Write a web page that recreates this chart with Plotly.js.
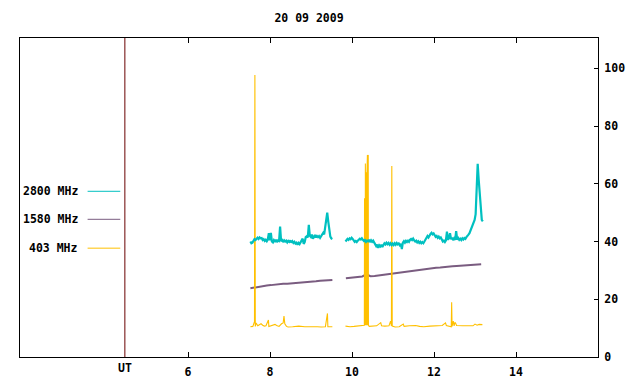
<!DOCTYPE html>
<html><head><meta charset="utf-8">
<script src="https://cdn.plot.ly/plotly-3.0.1.min.js"></script>
<style>html,body{margin:0;padding:0;background:#fff}</style>
</head><body><div id="chart" style="width:640px;height:384px"></div>
<script>
// ---- data ----
const chartTitle = "20 09 2009";
const seriesNames = ["2800 MHz", "1580 MHz", "403 MHz"];
const xTickVals = [6, 8, 10, 12, 14];
const yTickVals = [0, 20, 40, 60, 80, 100];
const utLabel = "UT";

// 2800 MHz, sampled every 0.025 h
const f2800aStart = 7.52, f2800bStart = 9.84, f2800Step = 0.025;
const f2800a = [40.0,39.4,39.6,40.3,40.8,40.5,41.1,41.3,40.9,41.4,41.1,41.2,40.5,40.8,40.2,40.6,40.1,40.7,42.9,40.4,
43.0,40.0,39.7,40.5,40.1,40.6,39.8,40.4,40.2,45.2,40.1,40.5,39.8,40.4,40.0,40.3,39.7,40.2,39.9,40.4,
39.6,40.1,39.5,39.9,39.3,39.6,38.9,39.5,39.1,39.7,40.8,41.0,39.2,39.8,41.5,41.8,41.4,45.8,42.0,41.6,
42.4,41.0,41.5,42.3,41.4,41.9,41.5,41.9,41.3,42.0,42.3,43.0,42.5,45.8,47.0,50.0,46.9,43.0,41.7,41.1,40.9];
const f2800b = [40.0,40.4,40.9,40.6,41.1,40.8,41.3,40.9,40.3,39.9,40.2,39.8,40.3,40.6,41.0,40.7,41.1,40.6,40.2,40.5,
39.9,40.3,40.1,40.6,39.8,40.4,39.9,40.3,39.5,38.9,38.4,38.9,37.8,38.7,38.3,38.9,38.1,38.8,39.4,39.0,
39.6,39.1,39.5,38.9,39.4,38.8,39.3,38.8,39.4,38.9,39.5,39.0,39.3,38.7,39.2,37.4,39.6,40.1,39.6,40.2,
39.8,40.3,39.9,40.6,40.9,40.5,41.0,40.4,40.0,40.3,39.7,40.1,39.5,39.9,39.4,39.8,39.4,40.0,40.8,41.5,
41.9,41.4,42.2,42.6,43.0,42.5,42.8,42.0,41.6,41.9,41.3,41.7,41.1,41.4,40.7,40.0,40.3,39.8,40.4,43.4,
40.6,41.2,42.9,40.8,41.3,40.5,41.1,40.6,43.6,40.7,41.2,40.6,41.0,40.5,41.1,40.7,41.2,40.9,41.5,41.8,
42.4,42.9,43.8,44.8,45.6,46.3,47.5,49.5,59.0,66.9,61.4,56.8,49.9,47.5,47.0];

// 1580 MHz, sampled every 0.1 h
const f1580aStart = 7.52, f1580bStart = 9.85, f1580Step = 0.1;
const f1580a = [23.8,24.1,24.4,24.6,24.8,24.9,25.1,25.3,25.4,25.4,25.5,25.5,25.6,25.8,25.9,26.0,26.2,26.4,26.5,26.6,26.7];
const f1580b = [27.3,27.4,27.6,27.8,27.9,28.6,28.0,28.1,28.3,28.5,28.6,28.8,29.0,29.1,29.3,29.5,29.7,29.9,30.1,30.3,
30.5,30.7,30.9,31.0,31.2,31.3,31.4,31.5,31.6,31.7,31.8,31.9,32.0,32.1];

// 403 MHz, irregular samples
const f403aTime = [7.52,7.58,7.62,7.63,7.64,7.66,7.70,7.74,7.78,7.82,7.86,7.90,7.96,7.97,8.02,8.06,8.12,8.16,8.22,8.28,
8.32,8.34,8.36,8.40,8.44,8.55,8.70,8.85,9.00,9.15,9.25,9.35,9.40,9.41,9.52];
const f403aVal = [10.5,10.6,12.2,97.7,10.6,11.8,10.8,11.2,11.5,11.0,10.7,10.8,12.8,10.6,10.8,11.0,11.3,10.9,10.6,11.5,
11.8,14.2,11.5,10.6,10.4,10.5,10.7,10.5,10.6,10.5,10.4,10.5,15.1,10.5,10.5];
const f403bTime = [9.84,9.95,10.05,10.15,10.25,10.300,10.305,10.310,10.315,10.320,10.325,10.330,10.335,10.340,10.345,
10.350,10.355,10.360,10.365,10.370,10.375,10.380,10.385,10.390,10.395,10.400,10.42,10.50,10.60,10.70,10.72,10.80,10.90,
10.94,10.96,10.97,10.98,11.05,11.15,11.25,11.27,11.40,11.55,11.65,11.75,11.90,12.05,12.20,12.28,12.30,12.42,12.43,12.44,
12.47,12.49,12.51,12.53,12.55,12.70,12.85,12.95,13.00,13.05,13.10,13.18];
const f403bVal = [10.7,10.5,10.6,10.7,10.8,11.0,55.0,12.0,54.0,11.0,67.0,12.0,66.0,11.0,64.0,
12.0,63.0,11.0,64.0,12.0,70.0,11.0,69.0,12.0,70.0,11.0,10.6,10.7,10.8,11.9,10.8,10.7,10.8,
12.4,10.8,66.2,10.7,10.4,10.5,11.4,10.6,10.8,10.9,10.6,10.5,10.7,10.8,10.9,11.8,10.9,10.5,19.0,10.6,
12.4,10.8,12.0,11.6,10.9,10.8,10.7,10.8,11.4,11.0,11.3,11.2];

// ---- build ----
function timeGrid(start, step, n) {
  const t = [];
  for (let i = 0; i < n; i++) t.push(+(start + i * step).toFixed(4));
  return t;
}
const C2800 = "#00c0c0", C1580 = "#7a5c80", C403 = "#ffc000";
function tr(x, y, color, width) {
  return {x: x, y: y, type: "scatter", mode: "lines", line: {color: color, width: width},
          hoverinfo: "skip", showlegend: false};
}
const data = [
  tr(timeGrid(f1580aStart, f1580Step, f1580a.length), f1580a, C1580, 2),
  tr(timeGrid(f1580bStart, f1580Step, f1580b.length), f1580b, C1580, 2),
  tr(f403aTime, f403aVal, C403, 1.1),
  tr(f403bTime, f403bVal, C403, 1.1),
  tr(timeGrid(f2800aStart, f2800Step, f2800a.length), f2800a, C2800, 2.2),
  tr(timeGrid(f2800bStart, f2800Step, f2800b.length), f2800b, C2800, 2.2)
];

const font = {family: "DejaVu Sans Mono", size: 11.5, color: "#000", weight: "bold"};
const legendY = [57.4, 47.7, 37.7];
const legendColors = [C2800, C1580, C403];
const shapes = [{type: "line", xref: "x", yref: "paper", x0: 4.458, x1: 4.458, y0: 0, y1: 1,
                 line: {color: "#6a0000", width: 1}}];
const annotations = [{text: utLabel, xref: "x", yref: "paper", x: 4.458, y: -0.035,
                      xanchor: "center", yanchor: "middle", showarrow: false, font: font}];
seriesNames.forEach((name, i) => {
  shapes.push({type: "line", xref: "x", yref: "y", x0: 3.549, x1: 4.346, y0: legendY[i], y1: legendY[i],
               line: {color: legendColors[i], width: 1}});
  annotations.push({text: name, xref: "x", yref: "y", x: 3.36, y: legendY[i], xanchor: "right",
                    yanchor: "middle", showarrow: false, font: font});
});

const layout = {
  width: 640, height: 384,
  margin: {l: 20, r: 42, t: 38, b: 27},
  paper_bgcolor: "#fff", plot_bgcolor: "#fff",
  title: {text: chartTitle, font: font, x: 0.5, xref: "paper", y: 1 - 18 / 384, yref: "container",
          xanchor: "center", yanchor: "middle"},
  font: font,
  xaxis: {range: [1.9, 16.0], tickvals: xTickVals, ticktext: xTickVals.map(String), ticks: "inside",
          ticklen: 5, tickcolor: "#000", showline: true, linecolor: "#000", linewidth: 1, mirror: "ticks",
          showgrid: false, zeroline: false, tickfont: font, ticklabelstandoff: 4, fixedrange: true},
  yaxis: {range: [0, 110.5], side: "right", tickvals: yTickVals, ticks: "inside", ticklen: 4,
          tickcolor: "#000", showline: true, linecolor: "#000", linewidth: 1, mirror: true,
          showgrid: false, zeroline: false, tickfont: font, ticklabelstandoff: 3, fixedrange: true},
  shapes: shapes,
  annotations: annotations
};
Plotly.newPlot("chart", data, layout, {staticPlot: true, displayModeBar: false});
</script></body></html>
